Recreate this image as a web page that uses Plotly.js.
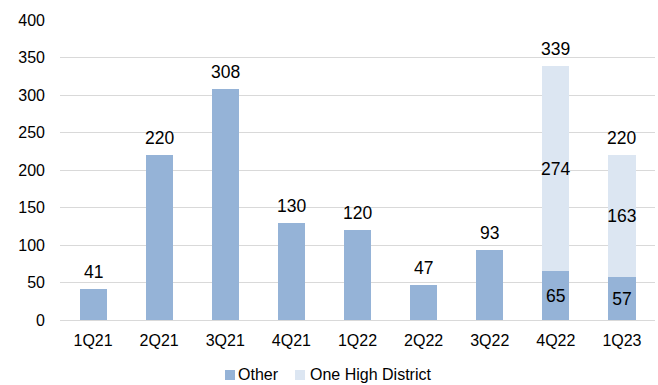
<!DOCTYPE html>
<html>
<head>
<meta charset="utf-8">
<script src="https://cdn.plot.ly/plotly-3.0.1.min.js"></script>
<style>html,body{margin:0;padding:0;background:#fff;}#chart{width:658px;height:385px;}</style>
</head>
<body>
<div id="chart"></div>
<script>
const categories = ["1Q21","2Q21","3Q21","4Q21","1Q22","2Q22","3Q22","4Q22","1Q23"];
const otherValues = [41, 220, 308, 130, 120, 47, 93, 65, 57];
const oneHighValues = [0, 0, 0, 0, 0, 0, 0, 274, 163];
const seriesNames = ["Other", "One High District"];
const seriesColors = ["#95B3D7", "#DCE6F2"];

const totals = otherValues.map((v, i) => v + oneHighValues[i]);
const stacked = oneHighValues.map(v => v > 0);

const font = "Liberation Sans, Arial, sans-serif";

const traces = [
  {
    type: "bar", name: seriesNames[0], x: categories, y: otherValues,
    marker: {color: seriesColors[0]}, width: 0.41,
    text: otherValues.map((v, i) => stacked[i] ? String(v) : ""),
    textposition: "inside", insidetextanchor: "middle", textangle: 0,
    constraintext: "none",
    textfont: {family: font, size: 17.5, color: "#000"},
    hoverinfo: "skip"
  },
  {
    type: "bar", name: seriesNames[1], x: categories, y: oneHighValues,
    marker: {color: seriesColors[1]}, width: 0.41,
    text: oneHighValues.map(v => v > 0 ? String(v) : ""),
    textposition: "inside", insidetextanchor: "middle", textangle: 0,
    constraintext: "none",
    textfont: {family: font, size: 17.5, color: "#000"},
    hoverinfo: "skip"
  }
];

const annotations = categories.map((c, i) => ({
  x: c, y: totals[i], xref: "x", yref: "y",
  text: String(totals[i]), showarrow: false,
  yanchor: "bottom", yshift: 5,
  font: {family: font, size: 17.5, color: "#000"}
}));

// compact legend: colored square + label per series
const legendSwatchX = [0.2857, 0.4034];
const legendTextX = [0.2958, 0.4168];
const legendY = -0.1833;
seriesNames.forEach((n, i) => {
  annotations.push({
    xref: "paper", yref: "paper", x: legendSwatchX[i], y: legendY,
    xanchor: "center", yanchor: "middle", showarrow: false,
    text: " ", width: 10, height: 10, borderpad: 0, borderwidth: 0,
    bgcolor: seriesColors[i], font: {size: 1}
  });
  annotations.push({
    xref: "paper", yref: "paper", x: legendTextX[i], y: legendY,
    xanchor: "left", yanchor: "middle", showarrow: false,
    text: n,
    font: {family: font, size: 16, color: "#000"}
  });
});

const layout = {
  width: 658, height: 385,
  margin: {l: 60, r: 3, t: 20, b: 65},
  paper_bgcolor: "#fff", plot_bgcolor: "#fff",
  barmode: "stack",
  showlegend: false,
  xaxis: {
    type: "category", showgrid: false, zeroline: false,
    showline: true, linecolor: "#D9D9D9", linewidth: 1,
    ticks: "", tickfont: {family: font, size: 16, color: "#000"},
    ticklabelstandoff: 6
  },
  yaxis: {
    range: [0, 400], dtick: 50, showgrid: true, gridcolor: "#D9D9D9",
    zeroline: false, showline: false, ticks: "",
    tickfont: {family: font, size: 16, color: "#000"},
    ticklabelstandoff: 14
  },
  annotations: annotations,
  font: {family: font}
};

Plotly.newPlot("chart", traces, layout, {displayModeBar: false, staticPlot: true});
</script>
</body>
</html>
